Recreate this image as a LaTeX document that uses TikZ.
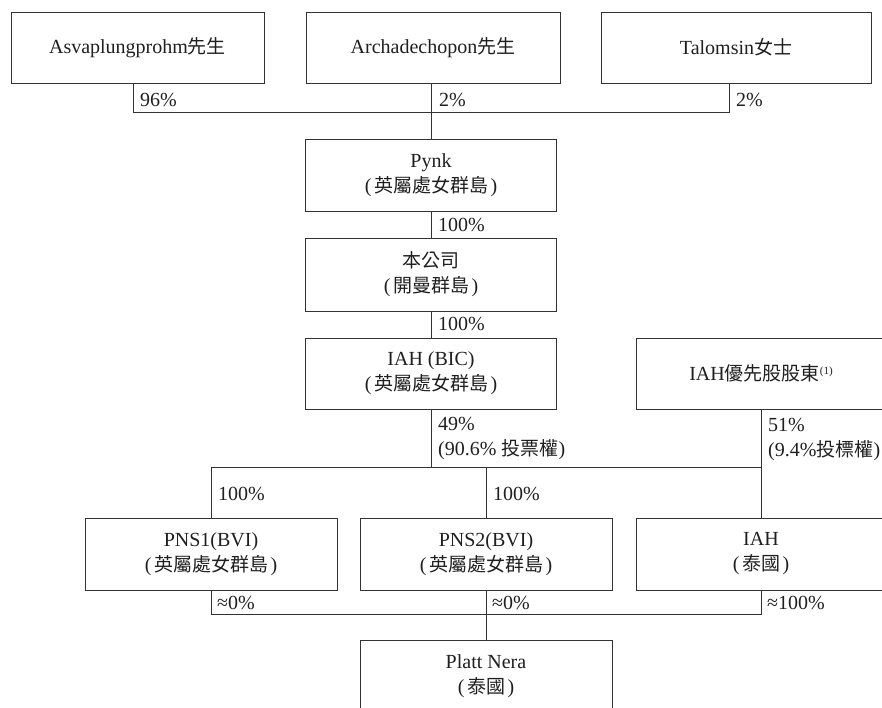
\documentclass[tikz,border=0pt]{standalone}
\usepackage{fontspec}
\setmainfont{Liberation Serif}
\newfontfamily\cjk{Noto Sans CJK TC}[Scale=0.95]
\newcommand{\zh}[1]{{\cjk #1}}
\newcommand{\zp}[1]{(\hspace{2.5pt}\zh{#1}\hspace{2.5pt})}
\begin{document}
\begin{tikzpicture}[x=1pt,y=-1pt,
  every node/.style={font=\fontsize{20}{25}\selectfont, text=black!88},
  box/.style={draw=black!80, line width=0.9pt, rectangle, align=center, inner sep=0pt, minimum height=72pt},
  conn/.style={draw=black!80, line width=0.9pt},
  lbl/.style={anchor=west, inner sep=0pt, align=left}]
\useasboundingbox (0,0) rectangle (882,708);
\clip (0,0) rectangle (882,708);
% boxes
\node[box, minimum width=253pt, minimum height=71pt] (A1) at (137.5,47.5) {Asvaplungprohm\zh{先生}};
\node[box, minimum width=254pt, minimum height=71pt] (A2) at (433,47.5) {Archadechopon\zh{先生}};
\node[box, minimum width=270pt, minimum height=71pt] (A3) at (736,47.5) {Talomsin\zh{女士}};
\node[box, minimum width=251pt] (Pynk) at (431,175) {Pynk\\\zp{英屬處女群島}};
\node[box, minimum width=251pt, minimum height=73pt] (Co) at (431,274.5) {\zh{本公司}\\\zp{開曼群島}};
\node[box, minimum width=251pt, minimum height=71pt] (BIC) at (431,373.5) {IAH (BIC)\\\zp{英屬處女群島}};
\node[box, minimum width=250pt, minimum height=71pt] (Pref) at (761,373.5) {IAH\zh{優先股股東}\raisebox{6pt}{\fontsize{11}{11}\selectfont(1)}};
\node[box, minimum width=252pt] (PNS1) at (211,554) {PNS1(BVI)\\\zp{英屬處女群島}};
\node[box, minimum width=252pt] (PNS2) at (486,554) {PNS2(BVI)\\\zp{英屬處女群島}};
\node[box, minimum width=250pt] (TH) at (761,554) {IAH\\\zp{泰國}};
\node[box, minimum width=252pt] (Platt) at (486,676) {Platt Nera\\\zp{泰國}};
% junctions
\coordinate (jtl) at (133,112);
\coordinate (jtr) at (729,112);
\coordinate (jm) at (431,467);
\coordinate (jb) at (486,614);
% connectors
\draw[conn] (A1.south -| jtl) -- (jtl) -- (jtr) -- (A3.south -| jtr);
\draw[conn] (A2.south -| Pynk.north) -- (Pynk.north);
\draw[conn] (Pynk.south) -- (Co.north);
\draw[conn] (Co.south) -- (BIC.north);
\draw[conn] (BIC.south) -- (BIC.south |- jm);
\draw[conn] (PNS1.north |- jm) -- (TH.north |- jm);
\draw[conn] (Pref.south) -- (TH.north);
\draw[conn] (PNS1.north |- jm) -- (PNS1.north);
\draw[conn] (PNS2.north |- jm) -- (PNS2.north);
\draw[conn] (PNS1.south) -- (PNS1.south |- jb) -- (TH.south |- jb) -- (TH.south);
\draw[conn] (PNS2.south) -- (Platt.north);
% labels
\node[lbl] (l96) at (140,100) {96\%};
\node[lbl] (l2a) at (439,100) {2\%};
\node[lbl] (l2b) at (736,100) {2\%};
\node[lbl] (l100a) at (438,225) {100\%};
\node[lbl] (l100b) at (438,324) {100\%};
\node[lbl] (l49) at (438,438.5) {49\%\\(90.6\% \zh{投票權})};
\node[lbl] (l51) at (768,439) {51\%\\(9.4\%\zh{投標權})};
\node[lbl] (l100c) at (218,494) {100\%};
\node[lbl] (l100d) at (493,494) {100\%};
\node[lbl] (l0a) at (217,603) {≈0\%};
\node[lbl] (l0b) at (492,603) {≈0\%};
\node[lbl] (l100e) at (767,603) {≈100\%};
\end{tikzpicture}
\end{document}
